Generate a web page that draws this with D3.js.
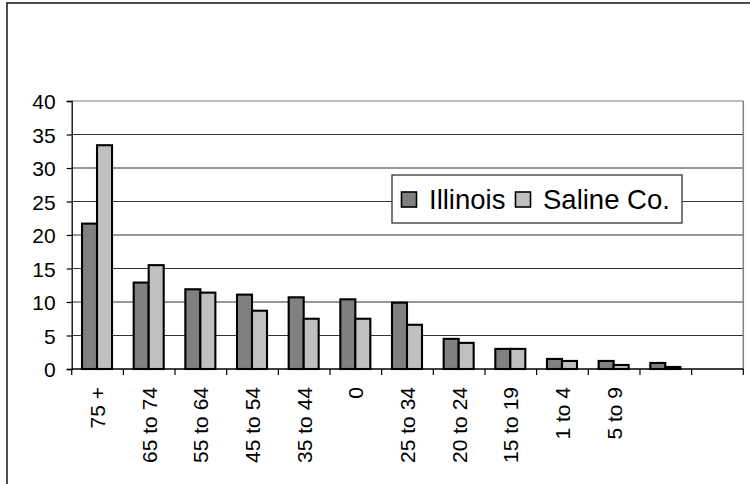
<!DOCTYPE html>
<html><head><meta charset="utf-8">
<script src="https://cdn.jsdelivr.net/npm/d3@7"></script>
<style>body{margin:0;background:#fff}svg{display:block}text{font-family:Arial,"Liberation Sans",sans-serif;fill:#000}</style>
</head><body><svg id="c" width="750" height="484"></svg>
<script>
const categories = ["75 +","65 to 74","55 to 64","45 to 54","35 to 44","0","25 to 34","20 to 24","15 to 19","1 to 4","5 to 9","",""];
const illinois = [21.7,12.9,11.9,11.1,10.7,10.4,9.9,4.5,3.0,1.5,1.2,0.9,null];
const saline   = [33.4,15.5,11.4,8.7,7.5,7.5,6.6,3.9,3.0,1.2,0.6,0.3,null];
const seriesNames = ["Illinois","Saline Co."];
const seriesColors = ["#808080","#c0c0c0"];
const yTicks = [0,5,10,15,20,25,30,35,40];

const svg = d3.select("#c");
const L = 71.7, R = 743.3, T = 101, B = 369;
const x = d3.scaleBand().domain(d3.range(categories.length)).range([L,R]).paddingInner(0).paddingOuter(0);
const y = d3.scaleLinear().domain([0,40]).range([B,T]);

// outer border
svg.append("rect").attr("x",7).attr("y",3).attr("width",800).attr("height",600)
  .attr("fill","none").attr("stroke","#222").attr("stroke-width",1.6);

// gridlines
svg.append("g").selectAll("line").data(yTicks.filter(d=>d>0)).join("line")
  .attr("x1",L).attr("x2",R).attr("y1",d=>y(d)).attr("y2",d=>y(d))
  .attr("stroke",d=>d===40?"#808080":"#333").attr("stroke-width",1.2);
// plot right border
svg.append("line").attr("x1",R).attr("x2",R).attr("y1",T).attr("y2",B).attr("stroke","#808080").attr("stroke-width",1.5);

// bars
const bw = 15;
const series = [illinois, saline];
series.forEach((vals,si)=>{
  svg.append("g").selectAll("rect").data(vals.map((v,i)=>({v,i})).filter(d=>d.v!=null)).join("rect")
    .attr("x",d=>x(d.i)+x.bandwidth()/2-bw+si*bw-0.5)
    .attr("width",bw)
    .attr("y",d=>y(d.v)).attr("height",d=>B-y(d.v))
    .attr("fill",seriesColors[si]).attr("stroke","#000").attr("stroke-width",2.1);
});

// y axis
const ya = svg.append("g").attr("transform",`translate(${L},0)`)
  .call(d3.axisLeft(y).tickValues(yTicks).tickSize(5).tickPadding(11));
ya.select(".domain").attr("stroke","#000").attr("stroke-width",1.3);
ya.selectAll(".tick line").attr("stroke","#000").attr("stroke-width",1.2);
ya.selectAll("text").attr("font-size","21px").attr("font-family","Arial, 'Liberation Sans', sans-serif").attr("dy","0.36em");

// x axis
const xa = svg.append("g").attr("transform",`translate(0,${B})`);
xa.append("line").attr("x1",L).attr("x2",R).attr("y1",0).attr("y2",0).attr("stroke","#000").attr("stroke-width",1.3);
xa.selectAll("line.t").data(d3.range(categories.length+1)).join("line").attr("class","t")
  .attr("x1",i=>L+i*x.bandwidth()).attr("x2",i=>L+i*x.bandwidth()).attr("y1",0).attr("y2",6)
  .attr("stroke","#000").attr("stroke-width",1.2);
xa.selectAll("text").data(categories.map((c,i)=>({c,i}))).join("text")
  .attr("transform",d=>`translate(${x(d.i)+x.bandwidth()/2+7.5},18) rotate(-90)`)
  .attr("text-anchor","end").attr("font-size","21px").text(d=>d.c);

// legend
const lg = svg.append("g");
lg.append("rect").attr("x",392).attr("y",175).attr("width",290).attr("height",48)
  .attr("fill","#fff").attr("stroke","#333").attr("stroke-width",1.3);
const items = [{sx:401.5,tx:429},{sx:515.5,tx:543}];
items.forEach((it,i)=>{
  lg.append("rect").attr("x",it.sx).attr("y",192).attr("width",15).attr("height",15)
    .attr("fill",seriesColors[i]).attr("stroke","#000").attr("stroke-width",1.6);
  lg.append("text").attr("x",it.tx).attr("y",208.5).attr("font-size","27.5px").text(seriesNames[i]);
});
</script></body></html>
